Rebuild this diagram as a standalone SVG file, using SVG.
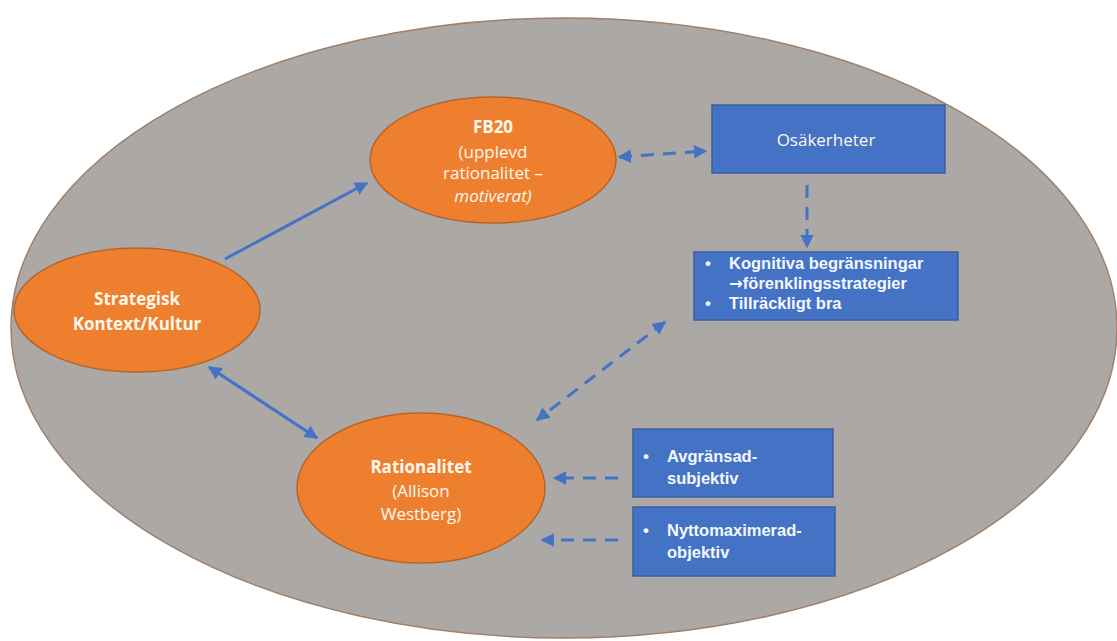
<svg xmlns="http://www.w3.org/2000/svg" width="1117" height="641" viewBox="0 0 1117 641">
<defs>
<style>
.bg{fill:#ACA8A5;stroke:#A0806A;stroke-width:1.5}
.oval{fill:#EE7F2F;stroke:#B5652A;stroke-width:1.5}
.box{fill:#4472C4;stroke:#3A5E9E;stroke-width:1.5}
.t{font-family:"Open Sans","Liberation Sans",sans-serif;font-size:17px;fill:#FFF8EE;text-anchor:middle}
.tb{font-weight:bold}
.bt{font-family:"Liberation Sans","Open Sans",sans-serif;font-size:16.5px;font-weight:bold;fill:#F4F7FF}
.bul{font-family:"Liberation Sans","Open Sans",sans-serif;font-size:17px;font-weight:bold;fill:#F4F7FF}
.arr{font-family:"DejaVu Sans",sans-serif;font-weight:bold}
.solid{stroke:#4472C4;stroke-width:3;fill:none}
.dash{stroke:#4472C4;stroke-width:3;fill:none;stroke-dasharray:13 9}
</style>
<marker id="ah" viewBox="0 0 10 10" refX="9" refY="5" markerWidth="4.5" markerHeight="4.5" orient="auto-start-reverse" markerUnits="strokeWidth">
<path d="M0,0 L10,5 L0,10 Z" fill="#4472C4"/>
</marker>
</defs>
<rect width="1117" height="641" fill="#FFFFFF"/>
<ellipse id="context" class="bg" cx="564" cy="328" rx="553" ry="310"/>

<g id="connectors">
<line class="solid" x1="225" y1="259" x2="367" y2="183" marker-end="url(#ah)"/>
<line class="solid" x1="209" y1="367" x2="317" y2="438" marker-start="url(#ah)" marker-end="url(#ah)"/>
<line class="dash" x1="619" y1="157" x2="706" y2="151" marker-start="url(#ah)" marker-end="url(#ah)"/>
<line class="dash" x1="807" y1="185" x2="807" y2="247" marker-end="url(#ah)"/>
<line class="dash" x1="665" y1="322" x2="537" y2="420" marker-start="url(#ah)" marker-end="url(#ah)"/>
<line class="dash" x1="618" y1="478" x2="554" y2="478" marker-end="url(#ah)"/>
<line class="dash" x1="618" y1="540" x2="542" y2="540" marker-end="url(#ah)"/>
</g>

<g id="strategisk">
<ellipse class="oval" cx="137" cy="310" rx="123" ry="62"/>
<text class="t tb" x="137" y="305">Strategisk</text>
<text class="t tb" x="137" y="330">Kontext/Kultur</text>
</g>

<g id="fb20">
<ellipse class="oval" cx="493" cy="160" rx="123" ry="63"/>
<text class="t tb" x="493" y="133">FB20</text>
<text class="t" x="493" y="158">(upplevd</text>
<text class="t" x="493" y="179">rationalitet –</text>
<text class="t" x="493" y="202" font-style="italic">motiverat)</text>
</g>

<g id="rationalitet">
<ellipse class="oval" cx="421" cy="488" rx="124" ry="75"/>
<text class="t tb" x="421" y="473">Rationalitet</text>
<text class="t" x="421" y="497">(Allison</text>
<text class="t" x="421" y="520">Westberg)</text>
</g>

<g id="osakerheter">
<rect class="box" x="712" y="105" width="233" height="68"/>
<text class="t" x="826" y="146" font-size="18">Osäkerheter</text>
</g>

<g id="kognitiva">
<rect class="box" x="694" y="252" width="264" height="68"/>
<text class="bul" x="705" y="269">•</text>
<text class="bt" x="729" y="269">Kognitiva begränsningar</text>
<text class="bt" x="729" y="289"><tspan class="arr">→</tspan>förenklingsstrategier</text>
<text class="bul" x="705" y="309">•</text>
<text class="bt" x="729" y="309">Tillräckligt bra</text>
</g>

<g id="avgransad">
<rect class="box" x="633" y="429" width="200" height="68"/>
<text class="bul" x="643" y="462">•</text>
<text class="bt" x="667" y="462">Avgränsad-</text>
<text class="bt" x="667" y="484">subjektiv</text>
</g>

<g id="nyttomax">
<rect class="box" x="633" y="507" width="202" height="69"/>
<text class="bul" x="643" y="536">•</text>
<text class="bt" x="667" y="536">Nyttomaximerad-</text>
<text class="bt" x="667" y="558">objektiv</text>
</g>
</svg>
